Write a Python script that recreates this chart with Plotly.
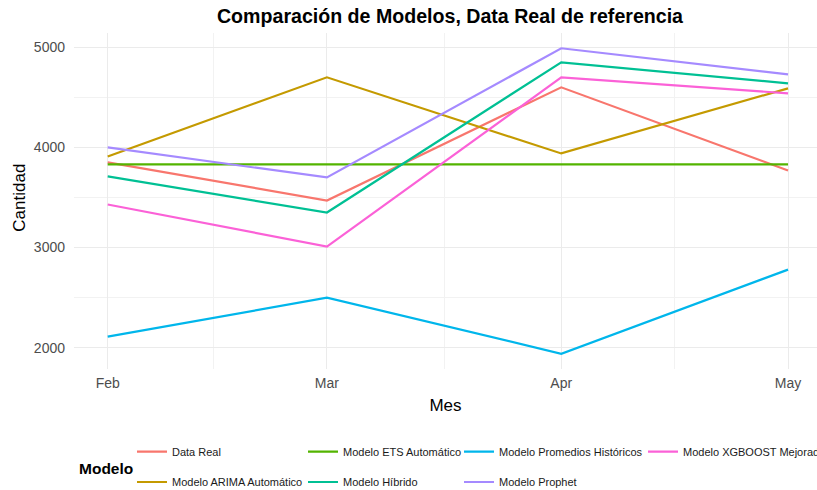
import plotly.graph_objects as go

meses = ["2024-02-01", "2024-03-01", "2024-04-01", "2024-05-01"]
tick_labels = ["Feb", "Mar", "Apr", "May"]

modelos = [
    "Data Real",
    "Modelo ARIMA Automático",
    "Modelo ETS Automático",
    "Modelo Híbrido",
    "Modelo Promedios Históricos",
    "Modelo Prophet",
    "Modelo XGBOOST Mejorado",
]
data_real = [3850, 3470, 4600, 3770]
arima = [3910, 4700, 3940, 4590]
ets = [3830, 3830, 3830, 3830]
hibrido = [3710, 3350, 4850, 4640]
promedios = [2110, 2500, 1940, 2780]
prophet = [4000, 3700, 4990, 4730]
xgboost = [3430, 3010, 4700, 4540]
valores = [data_real, arima, ets, hibrido, promedios, prophet, xgboost]
colores = ["#F8766D", "#C49A00", "#53B400", "#00C094", "#00B6EB", "#A58AFF", "#FB61D7"]

# legend layout (column-filled, 2 rows): pixel position where each label text starts
leg_text_x = [172, 172, 343, 343, 499, 499, 683]
leg_y = [451.7, 482, 451.7, 482, 451.7, 482, 451.7]

W, H = 817, 490
FONT = "Liberation Sans, Arial, sans-serif"

fig = go.Figure()
for i, (name, vals, col) in enumerate(zip(modelos, valores, colores)):
    lname = "legend" if i == 0 else f"legend{i+1}"
    fig.add_trace(go.Scatter(
        x=meses, y=vals, mode="lines", name=name,
        line=dict(color=col, width=2.2),
        legend=lname,
    ))

layout_legends = {}
for i in range(len(modelos)):
    lname = "legend" if i == 0 else f"legend{i+1}"
    layout_legends[lname] = dict(
        xref="container", yref="container",
        x=(leg_text_x[i] - 40) / W, y=1 - leg_y[i] / H,
        xanchor="left", yanchor="middle",
        font=dict(family=FONT, size=11, color="#1a1a1a"),
        bgcolor="rgba(0,0,0,0)", borderwidth=0,
        itemwidth=30,
    )

fig.update_layout(
    width=W, height=H,
    margin=dict(l=74, r=0, t=33, b=121, autoexpand=False),
    paper_bgcolor="white", plot_bgcolor="white",
    title=dict(
        text="<b>Comparación de Modelos, Data Real de referencia</b>",
        x=450 / W, xanchor="center", y=1 - 16.5 / H, yanchor="middle",
        font=dict(family=FONT, size=19.6, color="black"),
    ),
    font=dict(family=FONT),
    showlegend=True,
    **layout_legends,
)

fig.update_xaxes(
    type="date",
    range=["2024-01-27 13:00", "2024-05-04 20:00"],
    tickmode="array", tickvals=meses, ticktext=tick_labels,
    tickfont=dict(family=FONT, size=14, color="#4d4d4d"),
    showgrid=True, gridcolor="#EBEBEB", gridwidth=1.1,
    minor=dict(tickmode="array",
               tickvals=["2024-02-15", "2024-03-16 12:00", "2024-04-16"],
               showgrid=True, gridcolor="#F2F2F2", gridwidth=0.6),
    zeroline=False, showline=False, ticks="",
    ticklabelstandoff=4,
    title=dict(text="Mes", font=dict(family=FONT, size=17, color="black"), standoff=8.5),
)
fig.update_yaxes(
    range=[1787.5, 5142.5],
    tickmode="array", tickvals=[2000, 3000, 4000, 5000],
    tickfont=dict(family=FONT, size=14, color="#4d4d4d"),
    showgrid=True, gridcolor="#EBEBEB", gridwidth=1.1,
    minor=dict(tickmode="array", tickvals=[2500, 3500, 4500],
               showgrid=True, gridcolor="#F2F2F2", gridwidth=0.6),
    zeroline=False, showline=False, ticks="",
    ticklabelstandoff=8,
)

# y-axis title
fig.add_annotation(
    text="Cantidad", xref="paper", yref="paper",
    x=-(74 - 18.7) / 743, y=1 - (198 - 33) / 336, xanchor="center", yanchor="middle",
    textangle=-90, showarrow=False, font=dict(family=FONT, size=17, color="black"),
)
# legend title
fig.add_annotation(
    text="<b>Modelo</b>", xref="paper", yref="paper",
    x=(76.5 - 74) / 743, y=1 - (468 - 33) / 336, xanchor="left", yanchor="middle",
    showarrow=False, font=dict(family=FONT, size=15.5, color="black"),
)

fig.write_html("out.html", config={"displayModeBar": False},
               post_script="document.body.style.margin='0';")
